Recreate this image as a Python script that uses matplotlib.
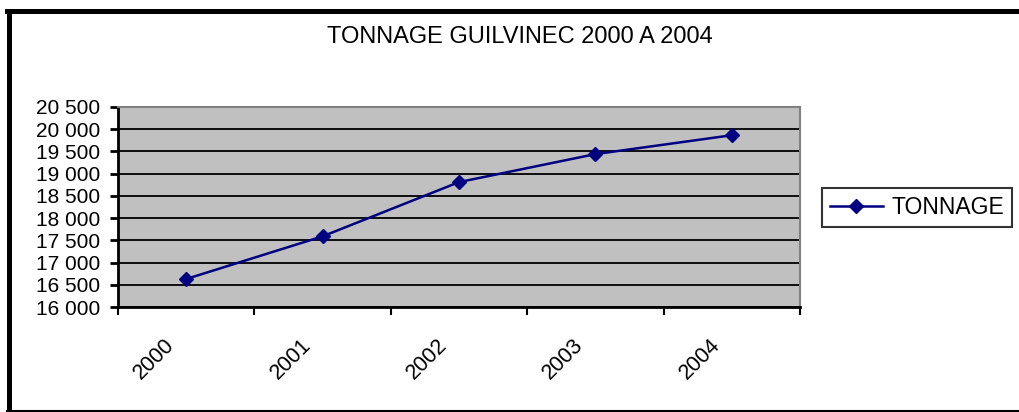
import matplotlib.pyplot as plt
from matplotlib.lines import Line2D
from matplotlib.ticker import FuncFormatter

years = ["2000", "2001", "2002", "2003", "2004"]
tonnage = [16630, 17590, 18810, 19440, 19865]

plt.rcParams['font.family'] = ['Liberation Sans', 'DejaVu Sans']

fig = plt.figure(figsize=(10.2, 4.12), dpi=100)
ax = fig.add_axes([118 / 1020, 105 / 412, 682 / 1020, 200 / 412])
ax.set_facecolor('#c0c0c0')

x = list(range(len(years)))
line, = ax.plot(x, tonnage, '-D', color='#000080', lw=1.8, ms=7, mew=1,
                label='TONNAGE', zorder=3)

ax.set_xlim(-0.5, len(years) - 0.5)
ax.set_ylim(16000, 20500)
ax.set_yticks(range(16000, 20501, 500))
ax.yaxis.set_major_formatter(FuncFormatter(lambda v, p: f"{v:,.0f}".replace(",", " ")))
ax.grid(axis='y', color='black', lw=1.3)
ax.set_axisbelow(True)

ax.set_xticks([i - 0.5 for i in range(len(years) + 1)])
ax.set_xticklabels([])
for i, yr in enumerate(years):
    ax.text(i - 0.235, -0.26, yr, rotation=45, ha='center', va='center',
            fontsize=15.5, transform=ax.get_xaxis_transform())

ax.tick_params(axis='y', labelsize=15, length=6, width=2, pad=7, direction='out')
ax.tick_params(axis='x', length=6, width=1.5, direction='out')
for s in ['left', 'bottom']:
    ax.spines[s].set_color('black')
    ax.spines[s].set_linewidth(2)
for s in ['top', 'right']:
    ax.spines[s].set_color('#808080')
    ax.spines[s].set_linewidth(1.5)

fig.text(520 / 1020, 1 - 37 / 412, 'TONNAGE GUILVINEC 2000 A 2004',
         ha='center', va='center', fontsize=17)

leg = fig.legend(handles=[line], loc='center left',
                 bbox_to_anchor=(822 / 1020, 1 - 207.5 / 412), fontsize=16.5,
                 frameon=True, fancybox=False, shadow=False, borderpad=0.33,
                 handlelength=2.35, handletextpad=0.35, borderaxespad=0)
leg.get_frame().set_edgecolor('black')
leg.get_frame().set_linewidth(1.5)

# outer chart frame
fig.add_artist(Line2D([9.5 / 1020, 9.5 / 1020], [0, 1 - 10.5 / 412],
                      color='black', lw=3.6, transform=fig.transFigure))
fig.add_artist(Line2D([7 / 1020, 1], [1 - 10.5 / 412, 1 - 10.5 / 412],
                      color='black', lw=3.6, transform=fig.transFigure))
fig.add_artist(Line2D([7 / 1020, 1], [0.8 / 412, 0.8 / 412],
                      color='black', lw=1.5, transform=fig.transFigure))

fig.savefig('out.png', dpi=100)
